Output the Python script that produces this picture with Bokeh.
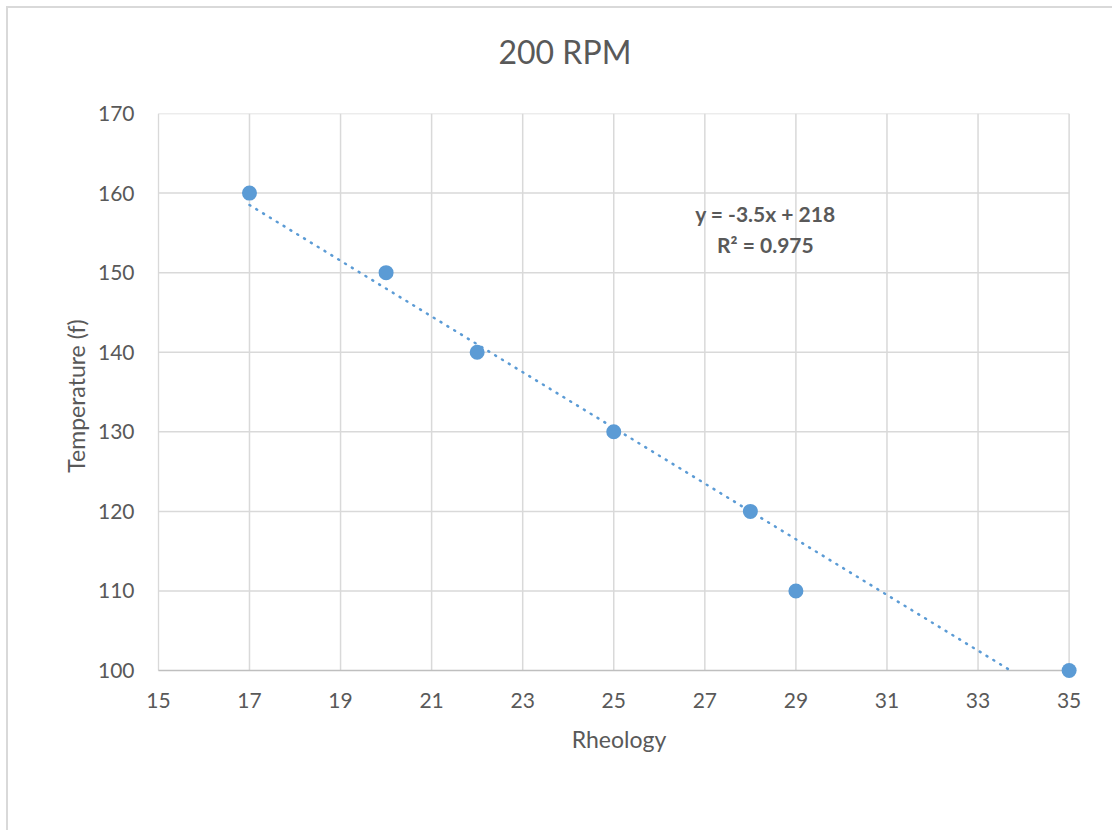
import numpy as np
from bokeh.plotting import figure
from bokeh.models import Range1d, FixedTicker, Label, Title
from bokeh.embed import file_html
from bokeh.resources import INLINE

# data
rheology = [17, 20, 22, 25, 28, 29, 35]
temperature = [160, 150, 140, 130, 120, 110, 100]
x_ticks = [15, 17, 19, 21, 23, 25, 27, 29, 31, 33, 35]
y_ticks = [100, 110, 120, 130, 140, 150, 160, 170]
title_text = "200 RPM"
x_label = "Rheology"
y_label = "Temperature (f)"

FONT = "Lato"
TXT = "#595959"
BLUE = "#5B9BD5"
GRID = "#D9D9D9"

x0, x1 = x_ticks[0], x_ticks[-1]
y0, y1 = y_ticks[0], y_ticks[-1]

# linear trendline (least squares)
slope, intercept = np.polyfit(rheology, temperature, 1)
pred = np.polyval([slope, intercept], rheology)
ss_res = np.sum((np.array(temperature) - pred) ** 2)
ss_tot = np.sum((np.array(temperature) - np.mean(temperature)) ** 2)
r2 = 1 - ss_res / ss_tot
t_end = min(max(rheology), (y0 - intercept) / slope)
tx = [min(rheology), t_end]
ty = [slope * v + intercept for v in tx]

p = figure(width=1106, height=824, output_backend="svg", toolbar_location=None,
           x_range=Range1d(x0 - 0.02, x1 + 0.25), y_range=Range1d(y0 - 1.0, y1),
           min_border_left=149, min_border_right=34, min_border_top=105, min_border_bottom=154)
p.margin = (6, 0, 0, 6)
p.styles = {"border-left": "2px solid #D9D9D9", "border-top": "2px solid #D9D9D9"}
p.outline_line_color = None
p.background_fill_color = "white"
p.border_fill_color = "white"

# spacer between the plot area and the title
p.add_layout(Title(text=" ", text_font=FONT, text_font_size="30px", standoff=0), "above")

# title
p.title.text = title_text
p.title.align = "left"
p.title.offset = 341
p.title.text_font = FONT
p.title.text_font_size = "32px"
p.title.text_font_style = "normal"
p.title.text_color = TXT

for ax in (p.xaxis[0], p.yaxis[0]):
    ax.major_label_text_font = FONT
    ax.major_label_text_font_size = "21px"
    ax.major_label_text_color = TXT
    ax.axis_label_text_font = FONT
    ax.axis_label_text_font_size = "23px"
    ax.axis_label_text_font_style = "normal"
    ax.axis_label_text_color = TXT
    ax.major_tick_line_color = None
    ax.minor_tick_line_color = None
    ax.axis_line_color = None

p.xaxis.ticker = FixedTicker(ticks=x_ticks)
p.yaxis.ticker = FixedTicker(ticks=y_ticks)
p.xaxis.axis_label = x_label
p.yaxis.axis_label = y_label
p.xaxis.major_label_standoff = 8
p.yaxis.major_label_standoff = 17
p.xaxis.axis_label_standoff = 14
p.yaxis.axis_label_standoff = 5

p.xgrid.visible = False
p.ygrid.visible = False
# gridlines drawn from the tick arrays
p.segment(x0=x_ticks, y0=[y0] * len(x_ticks), x1=x_ticks, y1=[y1] * len(x_ticks),
          line_color=GRID, line_width=1.5)
p.segment(x0=[x0] * len(y_ticks[1:]), y0=y_ticks[1:], x1=[x1] * len(y_ticks[1:]), y1=y_ticks[1:],
          line_color=GRID, line_width=1.5)
# horizontal axis line at the axis minimum
p.segment(x0=[x0], y0=[y0], x1=[x1], y1=[y0], line_color="#BFBFBF", line_width=1.5)

# trendline
p.line(tx, ty, line_color=BLUE, line_width=2.5, line_dash="1 7", line_cap="round")
# points
p.scatter(rheology, temperature, size=15, fill_color=BLUE, line_color=None)

eq = f"y = {slope:.1f}x + {intercept:.0f}"
rt = f"R² = {r2:.3f}"
for txt, yy in ((eq, 157.4), (rt, 153.6)):
    p.add_layout(Label(x=28.33, y=yy, text=txt, text_align="center", text_baseline="middle",
                       text_font=FONT, text_font_size="21px", text_font_style="bold",
                       text_color=TXT))

open("out.html", "w").write(file_html(p, INLINE))
